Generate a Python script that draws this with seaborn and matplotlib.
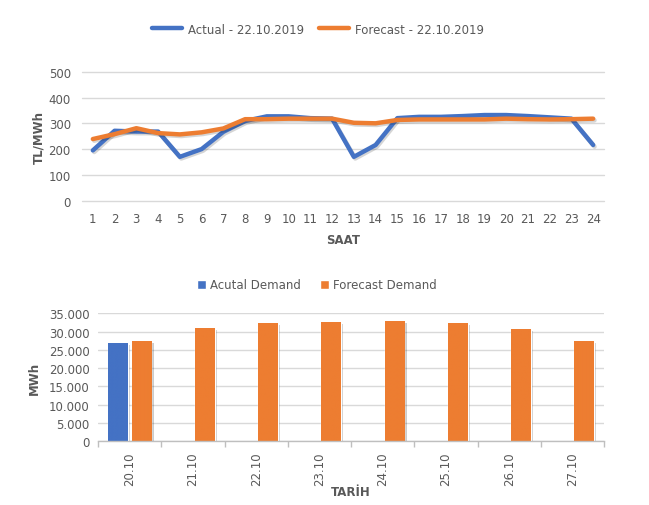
import numpy as np
import pandas as pd
import matplotlib
matplotlib.use("Agg")
import matplotlib.pyplot as plt
import matplotlib.patheffects as pe
from matplotlib.ticker import FuncFormatter
import seaborn as sns

# hourly prices, 22.10.2019
saat = list(range(1, 25))
actual = [195, 271, 268, 268, 170, 200, 267, 309, 327, 327, 320, 318,
          170, 216, 320, 325, 325, 328, 332, 332, 328, 323, 318, 216]
forecast = [239, 258, 281, 262, 257, 265, 280, 316, 316, 318, 318, 318,
            302, 300, 313, 315, 315, 315, 315, 318, 316, 315, 316, 318]

# daily demand
tarih = ["20.10", "21.10", "22.10", "23.10", "24.10", "25.10", "26.10", "27.10"]
actual_demand = [26600, np.nan, np.nan, np.nan, np.nan, np.nan, np.nan, np.nan]
forecast_demand = [27150, 30700, 32070, 32350, 32700, 32150, 30430, 27240]

BLUE = "#4472C4"
ORANGE = "#ED7D31"
GRAY = "#595959"
GRID = "#D9D9D9"

sns.set_theme(style="white")
plt.rcParams["font.family"] = ["DejaVu Sans"]

fig = plt.figure(figsize=(6.49, 5.06), dpi=100)
ax1 = fig.add_axes([0.1263, 0.6014, 0.8044, 0.2549])
ax2 = fig.add_axes([0.151, 0.1259, 0.7797, 0.253])

# ---- top: line chart
prices = pd.DataFrame({"SAAT": saat * 2,
                       "price": actual + forecast,
                       "series": ["Actual - 22.10.2019"] * 24 + ["Forecast - 22.10.2019"] * 24})
sns.lineplot(data=prices, x="SAAT", y="price", hue="series",
             palette=[BLUE, ORANGE], linewidth=3.2, ax=ax1, legend=True)
for ln in ax1.lines:
    ln.set_path_effects([pe.SimpleLineShadow(offset=(1, -1.2), alpha=0.18), pe.Normal()])
    ln.set_solid_joinstyle("round")

ax1.set_xlim(0.5, 24.5)
ax1.set_ylim(0, 500)
ax1.set_xticks(saat)
ax1.set_yticks(range(0, 501, 100))
ax1.grid(axis="y", color=GRID, linewidth=1)
for gl in ax1.get_ygridlines():
    gl.set_clip_on(False)
ax1.set_axisbelow(True)
for s in ax1.spines.values():
    s.set_visible(False)
ax1.tick_params(axis="both", length=0, labelsize=8.5, colors=GRAY, pad=8)
ax1.set_xlabel("SAAT", fontsize=8.5, fontweight="bold", color=GRAY, labelpad=6)
ax1.set_ylabel("TL/MWh", fontsize=8.5, fontweight="bold", color=GRAY, labelpad=2)
h, l = ax1.get_legend_handles_labels()
for hh in h:
    hh.set_path_effects([])
ax1.get_legend().remove()
fig.legend(h, l, loc="center", bbox_to_anchor=(0.49, 0.9407), ncol=2, frameon=False,
           fontsize=8.5, labelcolor=GRAY, handlelength=2.6, columnspacing=1.2, handletextpad=0.5)

# ---- bottom: bar chart
demand = pd.DataFrame({"TARİH": tarih * 2,
                       "MWh": actual_demand + forecast_demand,
                       "series": ["Acutal Demand"] * 8 + ["Forecast Demand"] * 8})
sns.barplot(data=demand, x="TARİH", y="MWh", hue="series", palette=[BLUE, ORANGE],
            width=0.75, gap=0.16, errorbar=None, ax=ax2, saturation=1)
h, l = ax2.get_legend_handles_labels()
ax2.get_legend().remove()

# gradient fill + soft shadow on each bar
grad_cols = {BLUE: ("#5B86D2", "#2C5BBC"), ORANGE: ("#F08E58", "#E56914")}
for p in list(ax2.patches):
    hgt = p.get_height()
    if hgt == 0 or np.isnan(hgt):
        continue
    fc = matplotlib.colors.to_hex(p.get_facecolor())
    top, bot = grad_cols.get(fc, (fc, fc))
    cmap = matplotlib.colors.LinearSegmentedColormap.from_list("g", [bot, fc, top])
    x0, w = p.get_x(), p.get_width()
    shadow = matplotlib.patches.Rectangle((x0, 0), w, hgt, facecolor="black", alpha=0.0,
                                          edgecolor="none", zorder=0.9)
    shadow.set_path_effects([pe.SimplePatchShadow(offset=(1.5, -1), shadow_rgbFace="black", alpha=0.2)])
    ax2.add_patch(shadow)
    ax2.imshow(np.linspace(1, 0, 100).reshape(-1, 1),
               cmap=cmap, aspect="auto", extent=(x0, x0 + w, 0, hgt),
               origin="upper", zorder=2, vmin=0, vmax=1, interpolation="bilinear")
    p.set_facecolor("none")
ax2.set_xlim(-0.5, 7.5)
ax2.set_ylim(0, 35000)

ax2.yaxis.set_major_formatter(FuncFormatter(lambda v, _: f"{int(v):,}".replace(",", ".")))
ax2.set_yticks(range(0, 35001, 5000))
ax2.grid(axis="y", color=GRID, linewidth=1)
ax2.set_axisbelow(True)
for s in ["top", "right", "left"]:
    ax2.spines[s].set_visible(False)
ax2.spines["bottom"].set_color("#BFBFBF")
ax2.spines["bottom"].set_linewidth(1)
ax2.spines["bottom"].set_zorder(3)
ax2.set_xticks(np.arange(8))
ax2.set_xticklabels(tarih, rotation=90)
ax2.set_xticks(np.arange(-0.5, 8, 1), minor=True)
ax2.tick_params(axis="x", which="major", length=0, labelsize=8.5, colors=GRAY, pad=7)
ax2.tick_params(axis="x", which="minor", length=4, color="#BFBFBF", bottom=True)
ax2.tick_params(axis="y", length=0, labelsize=8.5, colors=GRAY, pad=6)
ax2.set_xlabel("TARİH", fontsize=8.5, fontweight="bold", color=GRAY)
ax2.xaxis.set_label_coords(0.5, -0.396)
ax2.xaxis.label.set_va("center")
ax2.set_ylabel("MWh", fontsize=8.5, fontweight="bold", color=GRAY, labelpad=6)
fig.legend(h, l, loc="center", bbox_to_anchor=(0.488, 0.4348), ncol=2, frameon=False,
           fontsize=8.5, labelcolor=GRAY, handlelength=0.8, handleheight=0.8,
           columnspacing=1.6, handletextpad=0.3)

fig.savefig("out.png", dpi=100, facecolor="white")
